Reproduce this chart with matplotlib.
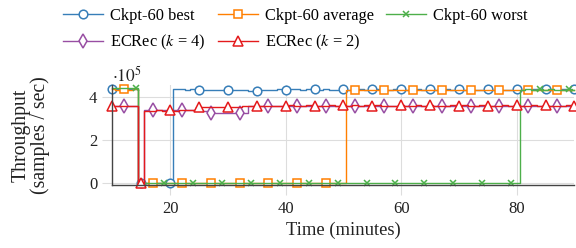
import numpy as np
import matplotlib
matplotlib.use("Agg")
import matplotlib.pyplot as plt

plt.rcParams['font.family'] = ['Liberation Serif', 'DejaVu Serif']
plt.rcParams['mathtext.fontset'] = 'stix'

# time in minutes, one sample per minute
minutes = np.arange(10, 91)

# throughput in units of 1e5 samples / sec
ckpt_best = [4.38, 4.37, 4.39, 4.38, 4.38,
             0, 0, 0, 0, 0, 0,
             4.36, 4.37, 4.35, 4.36, 4.34, 4.33, 4.35, 4.34, 4.33, 4.32,
             4.33, 4.31, 4.32, 4.30, 4.29, 4.31, 4.33, 4.35, 4.36, 4.35,
             4.37, 4.36, 4.35, 4.36, 4.37, 4.35, 4.36, 4.35, 4.34, 4.36,
             4.35, 4.37, 4.36, 4.35, 4.36, 4.37, 4.35, 4.34, 4.36, 4.36,
             4.35, 4.37, 4.36, 4.35, 4.36, 4.34, 4.35, 4.36, 4.35, 4.36,
             4.35, 4.36, 4.34, 4.35, 4.36, 4.35, 4.36, 4.35, 4.34, 4.36,
             4.35, 4.36, 4.37, 4.36, 4.36, 4.35, 4.36, 4.37, 4.35, 4.36]

ckpt_avg = [4.36, 4.35, 4.36, 4.35, 4.36,
            0, 0, 0, 0, 0, 0, 0, 0, 0, 0, 0, 0, 0, 0, 0, 0, 0, 0,
            0, 0, 0, 0, 0, 0, 0, 0, 0, 0, 0, 0, 0, 0, 0, 0, 0, 0,
            4.34, 4.33, 4.34, 4.32, 4.33, 4.35, 4.33, 4.34, 4.32, 4.33,
            4.34, 4.33, 4.32, 4.34, 4.33, 4.31, 4.33, 4.34, 4.33, 4.32,
            4.33, 4.31, 4.32, 4.33, 4.34, 4.33, 4.32, 4.33, 4.31, 4.32,
            4.33, 4.32, 4.34, 4.33, 4.32, 4.31, 4.33, 4.32, 4.33, 4.34]

ckpt_worst = [4.41, 4.40, 4.41, 4.40, 4.40,
              0, 0, 0, 0, 0, 0, 0, 0, 0, 0, 0, 0, 0, 0, 0, 0, 0, 0,
              0, 0, 0, 0, 0, 0, 0, 0, 0, 0, 0, 0, 0, 0, 0, 0, 0, 0,
              0, 0, 0, 0, 0, 0, 0, 0, 0, 0, 0, 0, 0, 0, 0, 0, 0, 0,
              0, 0, 0, 0, 0, 0, 0, 0, 0, 0, 0, 0,
              4.35, 4.36, 4.34, 4.36, 4.35, 4.36, 4.34, 4.35, 4.36, 4.35]

ecrec_k4 = [3.60, 3.59, 3.60, 3.58, 3.59,
            0,
            3.38, 3.40, 3.41, 3.40, 3.39, 3.40, 3.41, 3.40, 3.39, 3.38, 3.37,
            3.28, 3.27, 3.28, 3.27, 3.28, 3.27, 3.28,
            3.56, 3.58, 3.59, 3.60, 3.59, 3.58, 3.59, 3.58, 3.60, 3.59,
            3.58, 3.59, 3.57, 3.58, 3.59, 3.58, 3.60, 3.59, 3.58, 3.59,
            3.58, 3.57, 3.59, 3.58, 3.59, 3.58, 3.57, 3.58, 3.59, 3.58,
            3.59, 3.58, 3.57, 3.58, 3.59, 3.58, 3.59, 3.58, 3.57, 3.58,
            3.59, 3.58, 3.59, 3.58, 3.57, 3.58, 3.59, 3.58, 3.59, 3.58,
            3.58, 3.59, 3.58, 3.57, 3.58, 3.59, 3.58]

ecrec_k2 = [3.58, 3.57, 3.58, 3.57, 3.58,
            0,
            3.36, 3.37, 3.38, 3.37, 3.38, 3.37, 3.38, 3.39, 3.38,
            3.52, 3.53, 3.54, 3.53, 3.54, 3.55, 3.54, 3.55,
            3.58, 3.59, 3.60, 3.60, 3.59, 3.60, 3.59, 3.60, 3.61, 3.60,
            3.60, 3.61, 3.60, 3.59, 3.60, 3.61, 3.60, 3.61, 3.60, 3.61,
            3.60, 3.61, 3.60, 3.61, 3.60, 3.59, 3.60, 3.61, 3.60, 3.60,
            3.61, 3.60, 3.61, 3.60, 3.59, 3.60, 3.61, 3.60, 3.61, 3.60,
            3.60, 3.61, 3.60, 3.59, 3.60, 3.61, 3.60, 3.61, 3.60, 3.60,
            3.61, 3.60, 3.61, 3.60, 3.59, 3.60, 3.61, 3.60]

fig = plt.figure(figsize=(5.76, 2.48), dpi=100)
ax = fig.add_axes([0.1953, 0.256, 0.802, 0.4004])

style = dict(lw=1.0, drawstyle='steps-mid', mfc='white', mew=1.1, clip_on=False)
h_best, = ax.plot(minutes, ckpt_best, color='#377eb8', marker='o', ms=6.2,
                  markevery=(0, 5), label='Ckpt-60 best', **style)
h_avg, = ax.plot(minutes, ckpt_avg, color='#ff7f00', marker='s', ms=5.8,
                 markevery=(2, 5), label='Ckpt-60 average', **style)
h_worst, = ax.plot(minutes, ckpt_worst, color='#4daf4a', marker='x', ms=4.5,
                   markevery=(4, 5), label='Ckpt-60 worst', **style)
h_k4, = ax.plot(minutes, ecrec_k4, color='#984ea3', marker='d', ms=7.5,
                markevery=(2, 5), label=r'ECRec ($k$ = 4)', **style)
h_k2, = ax.plot(minutes, ecrec_k2, color='#e41a1c', marker='^', ms=7.2,
                markevery=(0, 5), label=r'ECRec ($k$ = 2)', **style)

ax.set_xlim(10, 90)
ax.set_ylim(-0.07, 4.55)
ax.set_xticks([20, 40, 60, 80])
ax.set_yticks([0, 2, 4])
ax.grid(True, color='#dddddd', lw=0.8)
ax.set_axisbelow(True)
ax.tick_params(direction='out', length=7, width=0.8, color='#dddddd',
               labelsize=12, labelcolor='#222222')
ax.tick_params(axis='x', pad=5)
ax.tick_params(axis='y', pad=4)
for s in ['top', 'right']:
    ax.spines[s].set_visible(False)
for s in ['left', 'bottom']:
    ax.spines[s].set_color('#444444')
    ax.spines[s].set_linewidth(1.0)

ax.text(0.0, 1.10, r'$\cdot 10^{5}$', transform=ax.transAxes, ha='left',
        va='center', fontsize=12.5, color='#222222')

ax.set_xlabel('Time (minutes)', fontsize=13.4, color='#222222', labelpad=3)
ax.set_ylabel('Throughput\n(samples / sec)', fontsize=14.2, color='#222222',
              linespacing=1.0)
ax.yaxis.set_label_coords(-0.135, 0.5)

# row-major order: best, average, worst / k=4, k=2
handles = [h_best, h_k4, h_avg, h_k2, h_worst]
fs = 11.8
fig.legend(handles=handles, labels=[h.get_label() for h in handles],
           loc='upper left', bbox_to_anchor=(63 / 576, 1 - 8 / 248), ncol=3,
           frameon=False, fontsize=fs, handlelength=40 * 0.72 / fs,
           handletextpad=7 * 0.72 / fs, columnspacing=12 * 0.72 / fs,
           labelspacing=0.56, borderpad=0, borderaxespad=0)

fig.savefig('out.png', dpi=100)
